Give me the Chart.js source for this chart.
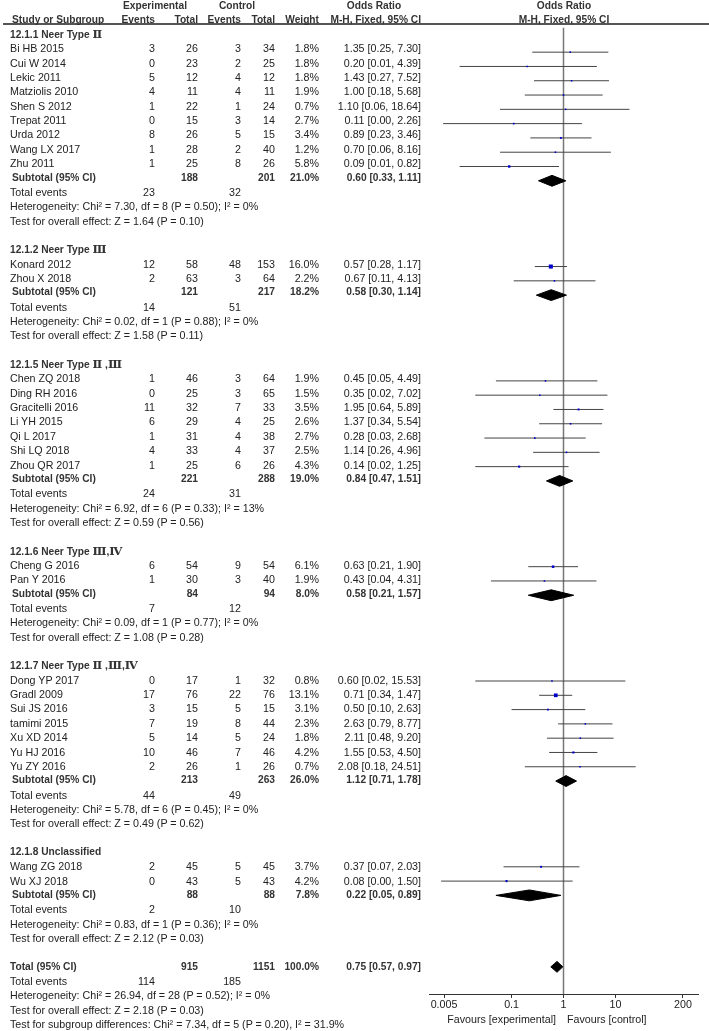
<!DOCTYPE html>
<html>
<head>
<meta charset="utf-8">
<script src="https://cdn.jsdelivr.net/npm/chart.js@4.4.1/dist/chart.umd.min.js"></script>
<style>
    body { margin: 0; background: #fff; }
    #wrap { position: relative; width: 709px; height: 1031px; overflow: hidden;
            font-family: "Liberation Sans", Arial, sans-serif; font-size: 10.7px; color: #222; }
    #plot { position: absolute; left: 0; top: 0; }
    .t { position: absolute; line-height: 14px; height: 14px; white-space: pre; }
    .b { font-weight: bold; font-size: 10.2px; color: #333; }
    .rn { font-family: "DejaVu Serif", serif; font-size: 11.5px; }
    .hl { position: absolute; left: 3px; right: 0; top: 23px; height: 2px; background: #555; }
</style>
</head>
<body>
<div id="wrap">
    <canvas id="plot" width="709" height="1031"></canvas>
    <div class="hl"></div>
</div>
<script>
// subgroups
const groupTitles = ['12.1.1 Neer Type Ⅱ', '12.1.2 Neer Type Ⅲ', '12.1.5 Neer Type Ⅱ ,Ⅲ',
    '12.1.6 Neer Type Ⅲ,Ⅳ', '12.1.7 Neer Type Ⅱ ,Ⅲ,Ⅳ', '12.1.8 Unclassified'];

// studies
const studies = ['Bi HB 2015', 'Cui W 2014', 'Lekic 2011', 'Matziolis 2010', 'Shen S 2012', 'Trepat 2011',
    'Urda 2012', 'Wang LX 2017', 'Zhu 2011',
    'Konard 2012', 'Zhou X 2018',
    'Chen ZQ 2018', 'Ding RH 2016', 'Gracitelli 2016', 'Li YH 2015', 'Qi L 2017', 'Shi LQ 2018', 'Zhou QR 2017',
    'Cheng G 2016', 'Pan Y 2016',
    'Dong YP 2017', 'Gradl 2009', 'Sui JS 2016', 'tamimi 2015', 'Xu XD 2014', 'Yu HJ 2016', 'Yu ZY 2016',
    'Wang ZG 2018', 'Wu XJ 2018'];
const studyGroup = [0,0,0,0,0,0,0,0,0, 1,1, 2,2,2,2,2,2,2, 3,3, 4,4,4,4,4,4,4, 5,5];
const expEvents = [3,0,5,4,1,0,8,1,1, 12,2, 1,0,11,6,1,4,1, 6,1, 0,17,3,7,5,10,2, 2,0];
const expTotal = [26,23,12,11,22,15,26,28,25, 58,63, 46,25,32,29,31,33,25, 54,30, 17,76,15,19,14,46,26, 45,43];
const ctlEvents = [3,2,4,4,1,3,5,2,8, 48,3, 3,3,7,4,4,4,6, 9,3, 1,22,5,8,5,7,1, 5,5];
const ctlTotal = [34,25,12,11,24,14,15,40,26, 153,64, 64,65,33,25,38,37,26, 54,40, 32,76,15,44,24,46,26, 45,43];
const weight = [1.8,1.8,1.8,1.9,0.7,2.7,3.4,1.2,5.8, 16.0,2.2, 1.9,1.5,3.5,2.6,2.7,2.5,4.3, 6.1,1.9,
    0.8,13.1,3.1,2.3,1.8,4.2,0.7, 3.7,4.2];
const oddsRatio = [1.35,0.20,1.43,1.00,1.10,0.11,0.89,0.70,0.09, 0.57,0.67, 0.45,0.35,1.95,1.37,0.28,1.14,0.14,
    0.63,0.43, 0.60,0.71,0.50,2.63,2.11,1.55,2.08, 0.37,0.08];
const ciLow = [0.25,0.01,0.27,0.18,0.06,0.0048,0.23,0.06,0.01, 0.28,0.11, 0.05,0.02,0.64,0.34,0.03,0.26,0.02,
    0.21,0.04, 0.02,0.34,0.10,0.79,0.48,0.53,0.18, 0.07,0.0044];
const ciHigh = [7.30,4.39,7.52,5.68,18.64,2.26,3.46,8.16,0.82, 1.17,4.13, 4.49,7.02,5.89,5.54,2.68,4.96,1.25,
    1.90,4.31, 15.53,1.47,2.63,8.77,9.20,4.50,24.51, 2.03,1.50];

// subtotals
const subExpTotal = [188, 121, 221, 84, 213, 88];
const subCtlTotal = [201, 217, 288, 94, 263, 88];
const subWeight = [21.0, 18.2, 19.0, 8.0, 26.0, 7.8];
const subOR = [0.60, 0.58, 0.84, 0.58, 1.12, 0.22];
const subLow = [0.33, 0.30, 0.47, 0.21, 0.71, 0.05];
const subHigh = [1.11, 1.14, 1.51, 1.57, 1.78, 0.89];
const subExpEvents = [23, 14, 24, 7, 44, 2];
const subCtlEvents = [32, 51, 31, 12, 49, 10];
const subHet = ['Chi² = 7.30, df = 8 (P = 0.50); I² = 0%', 'Chi² = 0.02, df = 1 (P = 0.88); I² = 0%',
    'Chi² = 6.92, df = 6 (P = 0.33); I² = 13%', 'Chi² = 0.09, df = 1 (P = 0.77); I² = 0%',
    'Chi² = 5.78, df = 6 (P = 0.45); I² = 0%', 'Chi² = 0.83, df = 1 (P = 0.36); I² = 0%'];
const subZ = ['Z = 1.64 (P = 0.10)', 'Z = 1.58 (P = 0.11)', 'Z = 0.59 (P = 0.56)',
    'Z = 1.08 (P = 0.28)', 'Z = 0.49 (P = 0.62)', 'Z = 2.12 (P = 0.03)'];

// overall
const totalCounts = [915, 1151];
const totalEvents = [114, 185];
const totalOR = [0.75, 0.57, 0.97];
const totalHet = 'Chi² = 26.94, df = 28 (P = 0.52); I² = 0%';
const totalZ = 'Z = 2.18 (P = 0.03)';
const subgroupDiff = 'Chi² = 7.34, df = 5 (P = 0.20), I² = 31.9%';

// axis
const tickValues = [0.005, 0.1, 1, 10, 200];
const tickLabels = ['0.005', '0.1', '1', '10', '200'];

const ROW0 = 34, ROWH = 14.35;
const COL = { name: 10, expEv: 155, expTot: 198, ctlEv: 241, ctlTot: 275, wt: 319, or: 421 };

const wrap = document.getElementById('wrap');

function txt(s, x, y, align, bold) {
    const d = document.createElement('div');
    d.className = 't' + (bold ? ' b' : '');
    // roman numerals get their own font, like the original
    s.split(/([ⅡⅢⅣ]+)/).forEach(part => {
        if (!part) return;
        if (/[ⅡⅢⅣ]/.test(part)) {
            const sp = document.createElement('span');
            sp.className = 'rn';
            sp.textContent = part;
            d.appendChild(sp);
        } else {
            d.appendChild(document.createTextNode(part));
        }
    });
    d.style.top = (y - 7) + 'px';
    if (align === 'right') {
        d.style.left = (x - 200) + 'px'; d.style.width = '200px'; d.style.textAlign = 'right';
    } else if (align === 'center') {
        d.style.left = (x - 100) + 'px'; d.style.width = '200px'; d.style.textAlign = 'center';
    } else {
        d.style.left = x + 'px';
    }
    wrap.appendChild(d);
}
const rowY = (i) => ROW0 + ROWH * i;
const orText = (o, l, h) => o.toFixed(2) + ' [' + l.toFixed(2) + ', ' + h.toFixed(2) + ']';

// header
txt('Experimental', 155, 6, 'center', true);
txt('Control', 237, 6, 'center', true);
txt('Odds Ratio', 374, 6, 'center', true);
txt('Odds Ratio', 564, 6, 'center', true);
txt('Study or Subgroup', 12, 20, 'left', true);
txt('Events', COL.expEv, 20, 'right', true);
txt('Total', COL.expTot, 20, 'right', true);
txt('Events', COL.ctlEv, 20, 'right', true);
txt('Total', COL.ctlTot, 20, 'right', true);
txt('Weight', COL.wt, 20, 'right', true);
txt('M-H, Fixed, 95% CI', COL.or, 20, 'right', true);
txt('M-H, Fixed, 95% CI', 564, 20, 'center', true);

// build rows
let row = 0;
const studyRow = [], subRow = [];
groupTitles.forEach((title, g) => {
    txt(title, COL.name, rowY(row), 'left', true);
    row++;
    studies.forEach((s, k) => {
        if (studyGroup[k] !== g) return;
        const y = rowY(row);
        txt(s, COL.name, y);
        txt(String(expEvents[k]), COL.expEv, y, 'right');
        txt(String(expTotal[k]), COL.expTot, y, 'right');
        txt(String(ctlEvents[k]), COL.ctlEv, y, 'right');
        txt(String(ctlTotal[k]), COL.ctlTot, y, 'right');
        txt(weight[k].toFixed(1) + '%', COL.wt, y, 'right');
        txt(orText(oddsRatio[k], ciLow[k], ciHigh[k]), COL.or, y, 'right');
        studyRow[k] = row;
        row++;
    });
    let y = rowY(row);
    txt('Subtotal (95% CI)', 12, y, 'left', true);
    txt(String(subExpTotal[g]), COL.expTot, y, 'right', true);
    txt(String(subCtlTotal[g]), COL.ctlTot, y, 'right', true);
    txt(subWeight[g].toFixed(1) + '%', COL.wt, y, 'right', true);
    txt(orText(subOR[g], subLow[g], subHigh[g]), COL.or, y, 'right', true);
    subRow[g] = row;
    row++;
    y = rowY(row);
    txt('Total events', COL.name, y);
    txt(String(subExpEvents[g]), COL.expEv, y, 'right');
    txt(String(subCtlEvents[g]), COL.ctlEv, y, 'right');
    row++;
    txt('Heterogeneity: ' + subHet[g], COL.name, rowY(row)); row++;
    txt('Test for overall effect: ' + subZ[g], COL.name, rowY(row)); row++;
    row++;
});
const totalRow = row;
let y = rowY(row);
txt('Total (95% CI)', COL.name, y, 'left', true);
txt(String(totalCounts[0]), COL.expTot, y, 'right', true);
txt(String(totalCounts[1]), COL.ctlTot, y, 'right', true);
txt('100.0%', COL.wt, y, 'right', true);
txt(orText(totalOR[0], totalOR[1], totalOR[2]), COL.or, y, 'right', true);
row++; y = rowY(row);
txt('Total events', COL.name, y);
txt(String(totalEvents[0]), COL.expEv, y, 'right');
txt(String(totalEvents[1]), COL.ctlEv, y, 'right');
row++;
txt('Heterogeneity: ' + totalHet, COL.name, rowY(row)); row++;
txt('Test for overall effect: ' + totalZ, COL.name, rowY(row)); row++;
txt('Test for subgroup differences: ' + subgroupDiff, COL.name, rowY(row));

txt('Favours [experimental]', 556, 1019, 'right');
txt('Favours [control]', 567, 1019, 'left');

// chart
const yTop = -2.37, yBottom = 66.9;
const DH = 0.38;
function diamond(o, l, h, r) {
    return {
        data: [{x: l, y: r}, {x: o, y: r - DH}, {x: h, y: r}, {x: o, y: r + DH}, {x: l, y: r}],
        showLine: true, fill: 'shape', backgroundColor: '#000', borderColor: '#000',
        borderWidth: 1, pointRadius: 0, tension: 0
    };
}

const datasets = [];
datasets.push({
    data: studies.map((s, k) => ({x: oddsRatio[k], y: studyRow[k]})),
    pointStyle: 'rect',
    pointRadius: weight.map(w => Math.max(1.1, Math.sqrt(w) * 0.72)),
    backgroundColor: '#0000cc',
    borderWidth: 0,
    showLine: false
});
groupTitles.forEach((t, g) => datasets.push(diamond(subOR[g], subLow[g], subHigh[g], subRow[g])));
datasets.push(diamond(totalOR[0], totalOR[1], totalOR[2], totalRow));
studies.forEach((s, k) => {
    datasets.push({
        data: [{x: ciLow[k], y: studyRow[k]}, {x: ciHigh[k], y: studyRow[k]}],
        showLine: true, borderColor: '#444', borderWidth: 1, pointRadius: 0
    });
});
datasets.push({
    data: [{x: 1, y: -0.7}, {x: 1, y: yBottom}],
    showLine: true, borderColor: '#777', borderWidth: 1.5, pointRadius: 0
});

const ctx = document.getElementById('plot').getContext('2d');
const forest = new Chart(ctx, {
    type: 'scatter',
    data: { datasets: datasets },
    options: {
        responsive: false,
        animation: false,
        devicePixelRatio: 1,
        layout: { padding: { left: 429, right: 11, top: 0, bottom: 0 } },
        plugins: { legend: { display: false }, tooltip: { enabled: false } },
        scales: {
            x: {
                type: 'logarithmic',
                position: 'bottom',
                min: Math.pow(10, -2.59),
                max: Math.pow(10, 2.59),
                afterBuildTicks: (scale) => { scale.ticks = tickValues.map(v => ({value: v})); },
                afterFit: (scale) => { scale.height = 37; },
                grid: { drawOnChartArea: false, drawTicks: true, tickLength: 4, color: '#333' },
                border: { display: true, color: '#333', width: 1 },
                ticks: {
                    padding: 1,
                    autoSkip: false,
                    maxRotation: 0,
                    color: '#222',
                    font: { family: 'Liberation Sans', size: 10.7 },
                    callback: (v) => {
                        const i = tickValues.indexOf(v);
                        return i >= 0 ? tickLabels[i] : '';
                    }
                }
            },
            y: { type: 'linear', display: false, reverse: true, min: yTop, max: yBottom }
        }
    }
});
</script>
</body>
</html>
